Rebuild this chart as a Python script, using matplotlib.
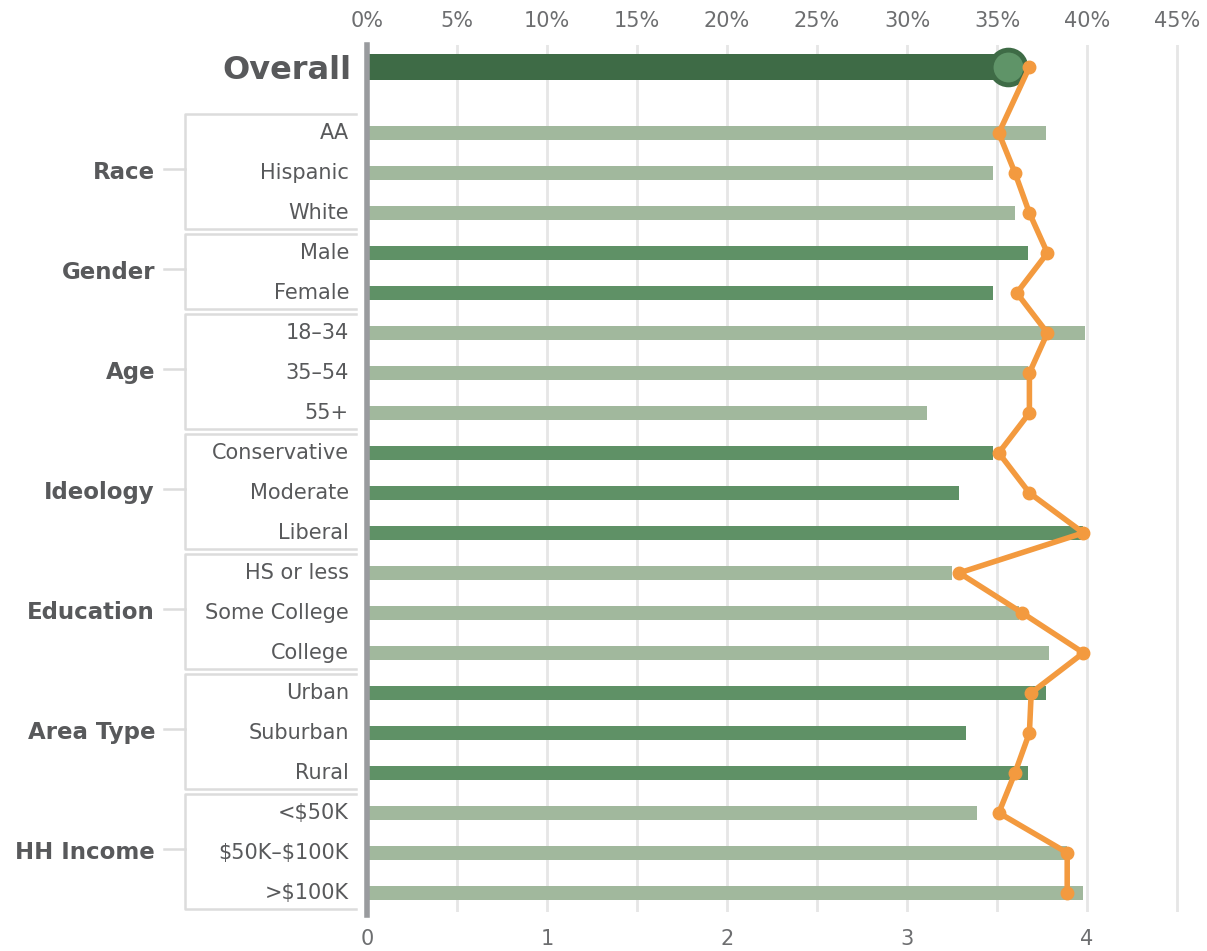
import matplotlib.pyplot as plt
import matplotlib.transforms as mtransforms
import numpy as np

plt.rcParams['font.family'] = ['DejaVu Sans']

# data
groups = ['Race', 'Gender', 'Age', 'Ideology', 'Education', 'Area Type', 'HH Income']
group_items = [
    ['AA', 'Hispanic', 'White'],
    ['Male', 'Female'],
    ['18–34', '35–54', '55+'],
    ['Conservative', 'Moderate', 'Liberal'],
    ['HS or less', 'Some College', 'College'],
    ['Urban', 'Suburban', 'Rural'],
    ['<\\$50K', '\\$50K–\\$100K', '>\\$100K'],
]
pct_values = [37.7, 34.8, 36.0,
              36.7, 34.8,
              39.9, 36.7, 31.1,
              34.8, 32.9, 39.8,
              32.5, 36.2, 37.9,
              37.7, 33.3, 36.7,
              33.9, 38.9, 39.8]
score_values = [3.51, 3.60, 3.68,
                3.78, 3.61,
                3.78, 3.68, 3.68,
                3.51, 3.68, 3.98,
                3.29, 3.64, 3.98,
                3.69, 3.68, 3.60,
                3.51, 3.89, 3.89]
overall_pct = 35.6
overall_score = 3.68
pct_ticks = [0, 5, 10, 15, 20, 25, 30, 35, 40, 45]
score_ticks = [0, 1, 2, 3, 4]

DARK = '#3e6b46'
MID = '#5f9166'
LIGHT = '#a1b89d'
ORANGE = '#f39a3f'
TEXT = '#58595b'
BOX = '#dcdcdc'

W, H = 1207, 951
fig = plt.figure(figsize=(W / 100, H / 100), dpi=100)
ax = fig.add_axes([367 / W, (H - 912) / H, 828 / W, 867 / H])

OVERALL_Y = -1.65
ax.set_xlim(0, 46)
ax.set_ylim(19.48, -2.2)

# rows
ys = []
colors = []
row = 0
for gi, items in enumerate(group_items):
    for _ in items:
        ys.append(row)
        colors.append(LIGHT if gi % 2 == 0 else MID)
        row += 1
ys = np.array(ys)

for x in pct_ticks[1:]:
    ax.axvline(x, color='#e6e6e6', lw=2, zorder=0)

ax.barh(ys, pct_values, height=0.36, color=colors, zorder=2)
ax.barh([OVERALL_Y], [overall_pct], height=0.64, color=DARK, zorder=2)
ax.plot([overall_pct], [OVERALL_Y], 'o', ms=25, mfc='#5f9468', mec=DARK,
        mew=3.5, zorder=3)

for s in ['top', 'right', 'bottom']:
    ax.spines[s].set_visible(False)
ax.spines['left'].set_color('#999b9e')
ax.spines['left'].set_linewidth(4)
ax.spines['left'].set_bounds(19.55, -2.2)
ax.set_yticks([])

# score axis (bottom)
ax2 = ax.twiny()
ax2.set_xlim(0, 4.6)
ax2.xaxis.tick_bottom()
ax2.set_xticks(score_ticks)
ax2.tick_params(axis='x', length=0, pad=12, labelsize=15, labelcolor='#6d6e70')
for s in ax2.spines.values():
    s.set_visible(False)
ax2.plot([overall_score] + score_values, [OVERALL_Y] + list(ys), '-o',
         color=ORANGE, lw=4, ms=9, zorder=5, solid_joinstyle='miter')
ax2.set_ylim(ax.get_ylim())
ax2.set_yticks([])

# percent axis (top)
ax.xaxis.tick_top()
ax.set_xticks(pct_ticks)
ax.set_xticklabels([f'{t}%' for t in pct_ticks])
ax.tick_params(axis='x', length=0, pad=10, labelsize=15, labelcolor='#6d6e70',
               top=True, labeltop=True, bottom=False, labelbottom=False)

# labels and group boxes
tr = mtransforms.blended_transform_factory(fig.transFigure, ax.transData)
ax.text(352 / W, OVERALL_Y + 0.1, 'Overall', transform=tr, ha='right', va='center',
        fontsize=23, fontweight='bold', color=TEXT)

row = 0
for gi, items in enumerate(group_items):
    first = row
    for name in items:
        ax.text(349 / W, row, name, transform=tr, ha='right', va='center',
                fontsize=15, color=TEXT, clip_on=False)
        row += 1
    last = row - 1
    top, bot = first - 0.48, last + 0.4
    x0, x1 = 185 / W, 356 / W
    ax.plot([x1, x0, x0, x1], [top, top, bot, bot], transform=tr, color=BOX,
            lw=1.8, clip_on=False)
    mid = (first + last) / 2
    ax.plot([164 / W, x0], [mid - 0.1, mid - 0.1], transform=tr, color=BOX,
            lw=1.8, clip_on=False)
    ax.text(155 / W, mid, groups[gi], transform=tr, ha='right', va='center',
            fontsize=16.5, fontweight='bold', color=TEXT)

fig.savefig('out.png', dpi=100)
